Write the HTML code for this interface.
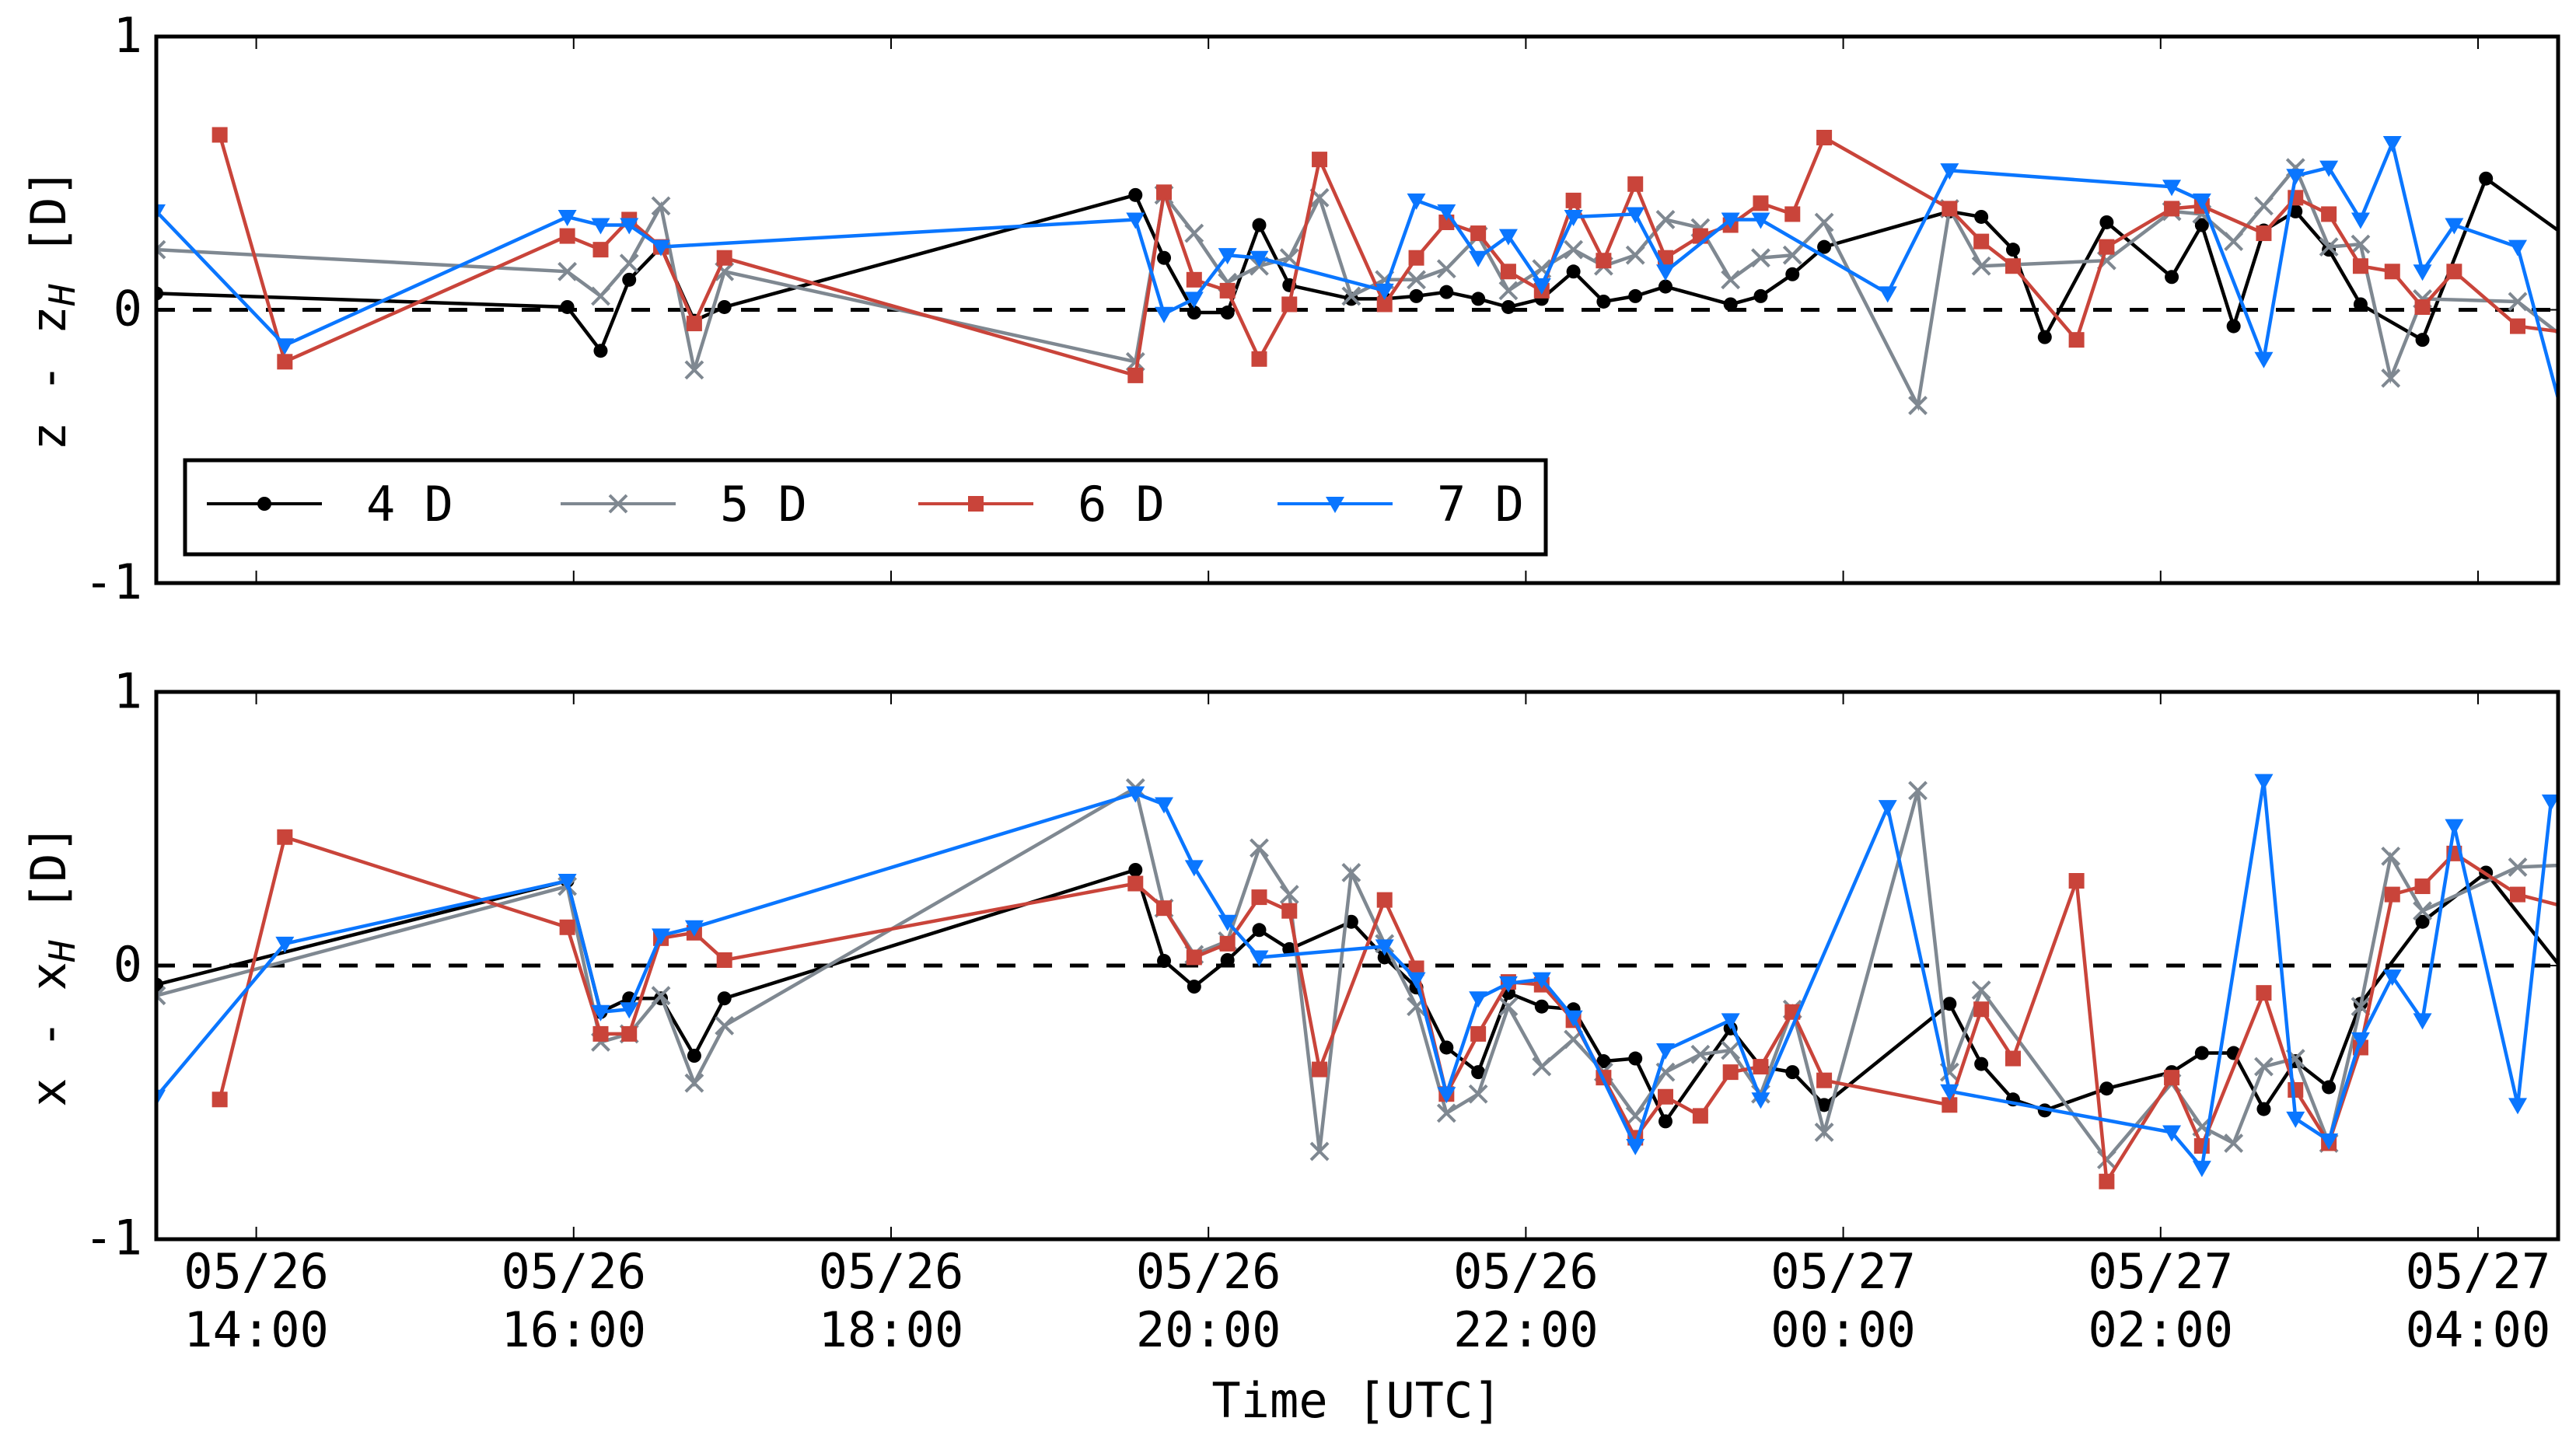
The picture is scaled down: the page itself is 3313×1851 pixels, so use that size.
<!DOCTYPE html>
<html><head><meta charset="utf-8"><title>Focus error chart</title>
<style>
html,body{margin:0;padding:0;background:#fff;}
svg{display:block;}
text{font-family:"DejaVu Sans Mono","Liberation Mono",monospace;fill:#000;}
</style></head>
<body>
<svg id="chart" width="3313" height="1851" viewBox="0 0 3313 1851" xmlns="http://www.w3.org/2000/svg">
<defs>
<clipPath id="clipTop"><rect x="201" y="47" width="3089" height="703"/></clipPath>
<clipPath id="clipBot"><rect x="201" y="890" width="3089" height="704"/></clipPath>
</defs>
<g id="top-panel"></g>
<g id="bottom-panel"></g>
<g id="axes-text">
<text transform="translate(84,398) rotate(-90)" text-anchor="middle" font-size="62">z - z<tspan font-style="italic" font-size="46" dy="12">H</tspan><tspan dy="-12"> [D]</tspan></text>
<text transform="translate(84,1242) rotate(-90)" text-anchor="middle" font-size="62">x - x<tspan font-style="italic" font-size="46" dy="12">H</tspan><tspan dy="-12"> [D]</tspan></text>
<text x="1745" y="1823" text-anchor="middle" font-size="62">Time [UTC]</text>
</g>
<g id="legend"></g>
</svg>
<script>
const tickHours = [14,16,18,20,22,24,26,28];
const tickDates = ["05/26","05/26","05/26","05/26","05/26","05/27","05/27","05/27"];
const tickTimes = ["14:00","16:00","18:00","20:00","22:00","00:00","02:00","04:00"];
const yTicks = [1,0,-1];
const yTickLabels = ["1","0","-1"];
const seriesNames = ["4 D","5 D","6 D","7 D"];

const zT4 = [13.37,15.96,16.17,16.35,16.55,16.76,16.95,19.54,19.72,19.91,20.12,20.32,20.51,20.90,21.11,21.31,21.50,21.70,21.89,22.10,22.30,22.49,22.69,22.88,23.29,23.48,23.68,23.88,24.67,24.87,25.07,25.27,25.66,26.07,26.26,26.46,26.65,26.85,27.06,27.26,27.65,28.05,28.65];
const zV4 = [0.06,0.01,-0.15,0.11,0.23,-0.04,0.01,0.42,0.19,-0.01,-0.01,0.31,0.09,0.04,0.04,0.05,0.065,0.04,0.01,0.04,0.14,0.03,0.05,0.085,0.02,0.05,0.13,0.23,0.36,0.34,0.22,-0.10,0.32,0.12,0.31,-0.06,0.29,0.36,0.22,0.02,-0.11,0.48,0.23];
const zT5 = [13.37,15.96,16.17,16.35,16.55,16.76,16.95,19.54,19.72,19.91,20.12,20.32,20.51,20.70,20.90,21.11,21.31,21.50,21.70,21.89,22.10,22.30,22.49,22.69,22.88,23.10,23.29,23.48,23.68,23.88,24.47,24.67,24.87,25.66,26.07,26.26,26.46,26.65,26.85,27.06,27.26,27.45,27.65,28.25,28.65];
const zV5 = [0.22,0.14,0.05,0.17,0.38,-0.22,0.14,-0.19,0.42,0.28,0.10,0.16,0.19,0.41,0.05,0.11,0.11,0.15,0.27,0.07,0.15,0.22,0.16,0.20,0.33,0.30,0.11,0.19,0.20,0.32,-0.35,0.37,0.16,0.18,0.36,0.35,0.25,0.38,0.52,0.23,0.24,-0.25,0.04,0.03,-0.15];
const zT6 = [13.77,14.18,15.96,16.17,16.35,16.55,16.76,16.95,19.54,19.72,19.91,20.12,20.32,20.51,20.70,21.11,21.31,21.50,21.70,21.89,22.10,22.30,22.49,22.69,22.88,23.10,23.29,23.48,23.68,23.88,24.67,24.87,25.07,25.47,25.66,26.07,26.26,26.65,26.85,27.06,27.26,27.46,27.65,27.85,28.25,28.65];
const zV6 = [0.64,-0.19,0.27,0.22,0.33,0.23,-0.05,0.19,-0.24,0.43,0.11,0.07,-0.18,0.02,0.55,0.02,0.19,0.32,0.28,0.14,0.07,0.40,0.18,0.46,0.19,0.27,0.31,0.39,0.35,0.63,0.37,0.25,0.16,-0.11,0.23,0.37,0.38,0.28,0.41,0.35,0.16,0.14,0.01,0.14,-0.06,-0.09];
const zT7 = [13.37,14.18,15.96,16.17,16.35,16.55,19.54,19.72,19.91,20.12,20.32,21.11,21.31,21.50,21.70,21.89,22.10,22.30,22.69,22.88,23.29,23.48,24.28,24.67,26.07,26.26,26.65,26.85,27.06,27.26,27.46,27.65,27.85,28.25,28.6];
const zV7 = [0.36,-0.13,0.34,0.31,0.31,0.23,0.33,-0.015,0.04,0.20,0.19,0.07,0.40,0.36,0.19,0.27,0.09,0.34,0.35,0.14,0.33,0.33,0.06,0.51,0.45,0.40,-0.18,0.49,0.52,0.33,0.61,0.14,0.31,0.23,-0.53];

const xT4 = zT4;
const xV4 = [-0.07,0.31,-0.17,-0.12,-0.12,-0.33,-0.12,0.35,0.017,-0.077,0.02,0.13,0.06,0.16,0.03,-0.08,-0.30,-0.39,-0.10,-0.15,-0.16,-0.35,-0.34,-0.57,-0.23,-0.37,-0.39,-0.51,-0.14,-0.36,-0.49,-0.53,-0.45,-0.39,-0.32,-0.32,-0.525,-0.35,-0.445,-0.14,0.16,0.34,-0.10];
const xT5 = zT5;
const xV5 = [-0.11,0.29,-0.28,-0.25,-0.11,-0.43,-0.22,0.65,0.21,0.04,0.09,0.43,0.26,-0.68,0.34,0.08,-0.15,-0.54,-0.47,-0.15,-0.37,-0.27,-0.39,-0.55,-0.39,-0.325,-0.31,-0.47,-0.16,-0.61,0.64,-0.39,-0.09,-0.71,-0.43,-0.59,-0.65,-0.37,-0.34,-0.65,-0.15,0.40,0.20,0.36,0.37];
const xT6 = zT6;
const xV6 = [-0.49,0.47,0.14,-0.25,-0.25,0.10,0.12,0.02,0.30,0.21,0.03,0.08,0.25,0.20,-0.38,0.24,-0.01,-0.47,-0.25,-0.06,-0.07,-0.20,-0.41,-0.63,-0.48,-0.55,-0.39,-0.37,-0.17,-0.42,-0.51,-0.16,-0.34,0.31,-0.79,-0.41,-0.66,-0.10,-0.455,-0.65,-0.30,0.26,0.29,0.41,0.26,0.20];
const xT7 = [13.37,14.18,15.96,16.17,16.35,16.55,16.76,19.54,19.72,19.91,20.12,20.32,21.11,21.31,21.50,21.70,21.89,22.10,22.30,22.69,22.88,23.29,23.48,24.28,24.67,26.07,26.26,26.65,26.85,27.06,27.26,27.46,27.65,27.85,28.25,28.46];
const xV7 = [-0.48,0.08,0.31,-0.17,-0.16,0.11,0.14,0.63,0.59,0.36,0.16,0.03,0.07,-0.05,-0.47,-0.12,-0.065,-0.05,-0.19,-0.66,-0.31,-0.20,-0.49,0.58,-0.46,-0.61,-0.74,0.675,-0.56,-0.64,-0.27,-0.04,-0.20,0.51,-0.51,0.6];

const NS = "http://www.w3.org/2000/svg";
const PL = 201, PR = 3290, T0 = 13.37, PXH = 204.1, UNIT = 351.6;
const COLORS = ["#000000","#7f8891","#c9443a","#0a76ff"];
const MARKERS = ["circle","x","square","tri"];
function xScale(t){ return PL + (t - T0) * PXH; }
function yScaleFor(zero){ return v => zero - v * UNIT; }
function mk(tag, attrs){ const e = document.createElementNS(NS, tag); for (const k in attrs) e.setAttribute(k, attrs[k]); return e; }

function drawMarker(g, kind, x, y, color){
  let m;
  if (kind === "circle") m = mk("circle", {cx:x, cy:y, r:9, fill:color});
  else if (kind === "square") m = mk("rect", {x:x-10, y:y-10, width:20, height:20, fill:color});
  else if (kind === "tri") m = mk("polygon", {points:`${x-12},${y-9} ${x+12},${y-9} ${x},${y+12}`, fill:color});
  else m = mk("path", {d:`M${x-11},${y-11}L${x+11},${y+11}M${x-11},${y+11}L${x+11},${y-11}`, stroke:color, "stroke-width":4, fill:"none"});
  
  
  g.appendChild(m);
}

function drawPanel(gid, top, bottom, clipId, seriesT, seriesV, prefix){
  const g = document.getElementById(gid);
  const zero = (top + bottom) / 2;
  const ys = yScaleFor(zero);
  const zl = mk("line", {x1:PL, x2:PR, y1:ys(0), y2:ys(0), stroke:"#000", "stroke-width":5, "stroke-dasharray":"24,23"});
  
  
  g.appendChild(zl);
  const sg = mk("g", {"clip-path":`url(#${clipId})`});
  
  
  g.appendChild(sg);
  for (let s = 0; s < 4; s++){
    const ts = seriesT[s], vs = seriesV[s];
    const pts = ts.map((t,i) => xScale(t).toFixed(1) + "," + ys(vs[i]).toFixed(1)).join(" ");
    const line = mk("polyline", {points:pts, fill:"none", stroke:COLORS[s], "stroke-width":4.5, "stroke-linejoin":"miter"});
    
    
    sg.appendChild(line);
    for (let i = 0; i < ts.length; i++) drawMarker(sg, MARKERS[s], xScale(ts[i]), ys(vs[i]), COLORS[s]);
  }
  const fr = mk("rect", {x:PL, y:top, width:PR-PL, height:bottom-top, fill:"none", stroke:"#000", "stroke-width":5});
  
  
  g.appendChild(fr);
  tickHours.forEach(h => {
    const x = xScale(h);
    const tb = mk("line", {x1:x, x2:x, y1:bottom, y2:bottom-16, stroke:"#000", "stroke-width":2});
    
    
    g.appendChild(tb);
    const tt = mk("line", {x1:x, x2:x, y1:top, y2:top+16, stroke:"#000", "stroke-width":2});
    
    
    g.appendChild(tt);
  });
  yTicks.forEach((v,i) => {
    const y = ys(v);
    const t1 = mk("line", {x1:PL, x2:PL+16, y1:y, y2:y, stroke:"#000", "stroke-width":2});
    
    
    g.appendChild(t1);
    const t2 = mk("line", {x1:PR, x2:PR-16, y1:y, y2:y, stroke:"#000", "stroke-width":2});
    
    
    g.appendChild(t2);
    const lb = mk("text", {x:183, y:y+20, "text-anchor":"end", "font-size":62});
    lb.textContent = yTickLabels[i];
    
    
    g.appendChild(lb);
  });
}

drawPanel("top-panel", 47, 750, "clipTop", [zT4,zT5,zT6,zT7], [zV4,zV5,zV6,zV7], "top");
drawPanel("bottom-panel", 890, 1594, "clipBot", [xT4,xT5,xT6,xT7], [xV4,xV5,xV6,xV7], "bottom");

const axg = document.getElementById("axes-text");
tickHours.forEach((h,i) => {
  const x = xScale(h);
  const d = mk("text", {x:x, y:1657, "text-anchor":"middle", "font-size":62});
  d.textContent = tickDates[i];
  
  
  axg.appendChild(d);
  const t = mk("text", {x:x, y:1732, "text-anchor":"middle", "font-size":62});
  t.textContent = tickTimes[i];
  
  
  axg.appendChild(t);
});

const lg = document.getElementById("legend");
const box = mk("rect", {x:238, y:592, width:1750, height:121, fill:"#fff", stroke:"#000", "stroke-width":5});


lg.appendChild(box);
const legX = [266, 721, 1181, 1643];
for (let s = 0; s < 4; s++){
  const x0 = legX[s];
  const e = mk("g", {});
  
  
  lg.appendChild(e);
  e.appendChild(mk("line", {x1:x0, x2:x0+148, y1:648, y2:648, stroke:COLORS[s], "stroke-width":4}));
  drawMarker(e, MARKERS[s], x0+74, 648, COLORS[s]);
  const tx = mk("text", {x:x0+205, y:670, "font-size":62});
  tx.textContent = seriesNames[s];
  
  
  e.appendChild(tx);
}
</script>
</body></html>
